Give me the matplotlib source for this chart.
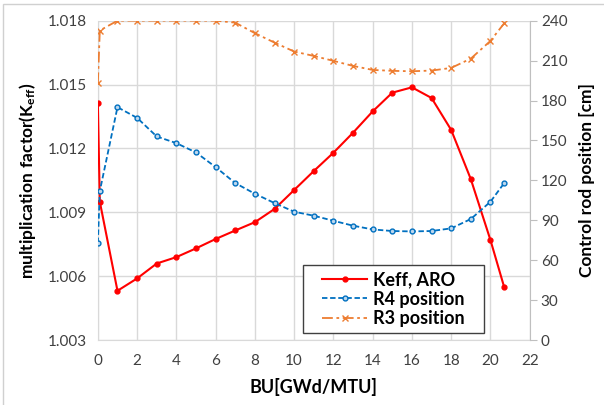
import matplotlib
matplotlib.use("Agg")
import matplotlib.pyplot as plt
from matplotlib.patches import Rectangle

plt.rcParams["font.family"] = ["Lato", "DejaVu Sans"]
plt.rcParams["mathtext.fontset"] = "custom"
plt.rcParams["mathtext.rm"] = "Lato"
plt.rcParams["mathtext.bf"] = "Lato:bold"

RED = "#FF0000"
BLUE = "#0070C0"
ORANGE = "#ED7D31"
GRID = "#D9D9D9"
TXT = "#404040"

# burnup points (GWd/MTU)
bu = [0, 0.1, 1, 2, 3, 4, 5, 6, 7, 8, 9, 10, 11, 12, 13, 14, 15, 16, 17, 18, 19, 20, 20.7]

keff = [1.01412, 1.00950, 1.00532, 1.00590, 1.00660, 1.00690, 1.00731, 1.00775,
        1.00815, 1.00854, 1.00916, 1.01005, 1.01094, 1.01180, 1.01274, 1.01374,
        1.01462, 1.01487, 1.01437, 1.01287, 1.01056, 1.00770, 1.00549]

r4_pos = [73, 112, 175, 167, 153, 148, 141, 130, 118, 110, 103, 96.5, 93.5, 89.7,
          86, 83.2, 82, 81.7, 82, 84, 91, 104, 118]

r3_pos = [193, 232.6, 240, 240, 240, 240, 240, 240, 238.5, 230.6, 223.5, 216.8,
          213.5, 209.8, 206, 203, 202.3, 202, 202.5, 204.5, 211.5, 224.8, 238]

keff_ticks = [1.003, 1.006, 1.009, 1.012, 1.015, 1.018]
rod_ticks = [0, 30, 60, 90, 120, 150, 180, 210, 240]
bu_ticks = list(range(0, 23, 2))

fig = plt.figure(figsize=(6.04, 4.05), dpi=100)
ax = fig.add_axes([0.162, 0.160, 0.715, 0.789])
ax2 = ax.twinx()

# thin frame round the whole picture
fig.patches.append(Rectangle((0.005, -0.01), 1.2, 1.0, transform=fig.transFigure,
                             fill=False, edgecolor="#D0D0D0", lw=1.0))

l1, = ax.plot(bu, keff, color=RED, lw=1.5, marker="o", ms=3.5, label="Keff, ARO", zorder=3)
l2, = ax2.plot(bu, r4_pos, color=BLUE, lw=1.3, ls=(0, (3, 1.5)), marker="o", ms=3.5,
               mfc="#BDD7EE", mec=BLUE, mew=1.0, label="R4 position")
l3, = ax2.plot(bu, r3_pos, color=ORANGE, lw=1.3, ls=(0, (6, 2, 1.5, 2)), marker="x",
               ms=4, mew=1.0, label="R3 position")

ax.set_xlim(0, 22)
ax.set_ylim(1.003, 1.018)
ax2.set_ylim(0, 240)
ax.set_xticks(bu_ticks)
ax.set_yticks(keff_ticks)
ax.set_yticklabels([f"{v:.3f}" for v in keff_ticks])
ax2.set_yticks(rod_ticks)

ax.grid(True, color=GRID, lw=1.0)
ax.set_axisbelow(True)

for a in (ax, ax2):
    for s in a.spines.values():
        s.set_visible(False)
ax.spines["bottom"].set_visible(True)
ax.spines["bottom"].set_color(GRID)
ax.spines["left"].set_visible(True)
ax.spines["left"].set_color(GRID)
ax2.spines["right"].set_visible(True)
ax2.spines["right"].set_color("#BFBFBF")

ax.tick_params(axis="both", length=0, labelsize=11, colors=TXT, pad=8)
ax.tick_params(axis="x", pad=10)
ax2.tick_params(axis="y", length=5, color="#BFBFBF", labelsize=11, labelcolor=TXT, pad=3)

ax.set_xlabel("BU[GWd/MTU]", fontsize=13, fontweight="bold", color="black", labelpad=7)
ax.set_ylabel(r"$\mathbf{multiplication\ factor(K_{eff})}$", fontsize=12.5,
              color="black", labelpad=7)
ax2.set_ylabel("Control rod position [cm]", fontsize=12.5, fontweight="bold",
               color="black", labelpad=8)

# legend box drawn separately, legend entries centred inside it
ax2.add_patch(Rectangle((0.4745, 0.022), 0.419, 0.213, transform=ax2.transAxes,
                        facecolor="white", edgecolor="#404040", lw=1.0, zorder=4))
leg = ax2.legend(handles=[l1, l2, l3], loc="center", bbox_to_anchor=(0.684, 0.1285),
                 frameon=False, handlelength=2.5, labelspacing=0.15, handletextpad=0.3,
                 borderpad=0, borderaxespad=0, prop={"weight": "bold", "size": 13})
leg.set_zorder(5)

fig.savefig("out.png", dpi=100)
